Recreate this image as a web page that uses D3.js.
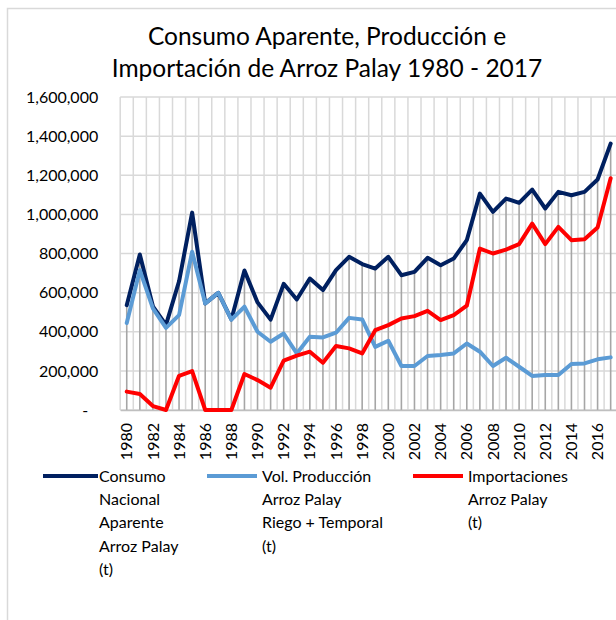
<!DOCTYPE html>
<html>
<head>
<meta charset="utf-8">
<script src="https://cdn.jsdelivr.net/npm/d3@7"></script>
<style>
  body { margin: 0; background: #fff; }
  svg { display: block; font-family: Lato, "Open Sans", sans-serif; }
</style>
</head>
<body>
<script>
var years = ["1980","1981","1982","1983","1984","1985","1986","1987","1988","1989",
             "1990","1991","1992","1993","1994","1995","1996","1997","1998","1999",
             "2000","2001","2002","2003","2004","2005","2006","2007","2008","2009",
             "2010","2011","2012","2013","2014","2015","2016","2017"];

// toneladas
var consumo = [536000, 795000, 530000, 435000, 658000, 1009000, 545000, 599000, 463000, 713000,
               550000, 462000, 645000, 565000, 672000, 613000, 715000, 783000, 746000, 723000,
               783000, 689000, 706000, 778000, 740000, 774000, 868000, 1106000, 1013000, 1081000,
               1059000, 1127000, 1030000, 1115000, 1098000, 1115000, 1178000, 1362000];

var produccion = [445000, 715000, 519000, 420000, 485000, 809000, 545000, 599000, 462000, 528000,
                  400000, 349000, 391000, 289000, 374000, 371000, 395000, 471000, 463000, 323000,
                  354000, 225000, 225000, 276000, 281000, 289000, 340000, 298000, 225000, 267000,
                  221000, 174000, 179000, 179000, 235000, 238000, 259000, 269000];

var importaciones = [94000, 82000, 20000, 0, 175000, 199000, 0, 0, 0, 184000,
                     153000, 114000, 252000, 278000, 298000, 242000, 327000, 315000, 289000, 408000,
                     434000, 468000, 480000, 507000, 460000, 485000, 533000, 825000, 800000, 820000,
                     848000, 953000, 848000, 936000, 868000, 873000, 933000, 1185000];

var yTicks = [0, 200000, 400000, 600000, 800000, 1000000, 1200000, 1400000, 1600000];
var xTickLabels = years.filter(function(d, i) { return i % 2 === 0; });

var titleLines = ["Consumo Aparente, Producción e", "Importación de Arroz Palay 1980 - 2017"];

var legendLabels = [
  ["Consumo", "Nacional", "Aparente", "Arroz Palay", "(t)"],
  ["Vol. Producción", "Arroz Palay", "Riego + Temporal", "(t)"],
  ["Importaciones", "Arroz Palay", "(t)"]
];
var seriesColors = ["#002060", "#5B9BD5", "#FF0000"];

var width = 616, height = 620;
var plotLeft = 120.2, plotRight = 617.2, plotTop = 97, plotBottom = 410;

var svg = d3.select("body").append("svg").attr("width", width).attr("height", height);

// marco del gráfico
svg.append("rect")
  .attr("x", 7.5).attr("y", 8.5).attr("width", 700).attr("height", 700)
  .attr("fill", "none").attr("stroke", "#D9D9D9").attr("stroke-width", 1.5);

// título
svg.append("g").selectAll("text").data(titleLines).enter().append("text")
  .attr("x", 327).attr("y", function(d, i) { return 45 + i * 32; })
  .attr("text-anchor", "middle")
  .style("font-size", "24.5px").style("fill", "#000")
  .text(function(d) { return d; });

var xScale = d3.scaleBand().domain(years).range([plotLeft, plotRight]).padding(0);
var yScale = d3.scaleLinear().domain([0, 1600000]).range([plotBottom, plotTop]);
var xCenter = function(d) { return xScale(d) + xScale.bandwidth() / 2; };

// rejilla horizontal
svg.append("g").selectAll("line").data(yTicks).enter().append("line")
  .attr("x1", plotLeft).attr("x2", plotRight)
  .attr("y1", function(d) { return yScale(d); }).attr("y2", function(d) { return yScale(d); })
  .attr("stroke", "#D9D9D9").attr("stroke-width", 1.5);

// rejilla vertical entre categorías
var boundaries = years.map(function(d) { return xScale(d); });
boundaries.push(plotRight);
svg.append("g").selectAll("line").data(boundaries).enter().append("line")
  .attr("x1", function(d) { return d; }).attr("x2", function(d) { return d; })
  .attr("y1", plotTop).attr("y2", plotBottom)
  .attr("stroke", "#D9D9D9").attr("stroke-width", 1.5);

// líneas de proyección
svg.append("g").selectAll("line").data(years).enter().append("line")
  .attr("x1", xCenter).attr("x2", xCenter)
  .attr("y1", yScale(0))
  .attr("y2", function(d, i) { return yScale(Math.max(consumo[i], produccion[i], importaciones[i])); })
  .attr("stroke", "#A6A6A6").attr("stroke-width", 1.6);

// eje Y
var yAxis = d3.axisLeft(yScale).tickValues(yTicks).tickSize(0).tickPadding(22)
  .tickFormat(function(d) { return d === 0 ? "-" : d3.format(",")(d); });
var gy = svg.append("g").attr("transform", "translate(" + plotLeft + ",0)").call(yAxis);
gy.select(".domain").remove();
gy.selectAll("text").style("font-size", "16px").style("fill", "#000").style("font-family", "Lato, sans-serif");
gy.selectAll(".tick").filter(function(d) { return d === 0; }).select("text").attr("x", -32);

// eje X
var xAxis = d3.axisBottom(xScale).tickValues(xTickLabels).tickSize(0);
var gx = svg.append("g").attr("transform", "translate(0," + plotBottom + ")").call(xAxis);
gx.select(".domain").attr("stroke", "#BFBFBF").attr("stroke-width", 1.5);
gx.selectAll("text")
  .attr("x", -13).attr("y", 0).attr("dy", "0.35em")
  .attr("transform", "rotate(-90)")
  .style("text-anchor", "end")
  .style("font-size", "16px").style("fill", "#000").style("font-family", "Lato, sans-serif");

// series
var series = [consumo, produccion, importaciones];
var line = d3.line()
  .x(function(d, i) { return xCenter(years[i]); })
  .y(function(d) { return yScale(d); });

svg.append("g").selectAll("path").data(series).enter().append("path")
  .attr("d", function(d) { return line(d); })
  .attr("fill", "none")
  .attr("stroke", function(d, i) { return seriesColors[i]; })
  .attr("stroke-width", 4)
  .attr("stroke-linejoin", "round")
  .attr("stroke-linecap", "round");

// leyenda
var legendX = [43, 207, 413];
var legend = svg.append("g").selectAll("g").data(legendLabels).enter().append("g")
  .attr("transform", function(d, i) { return "translate(" + legendX[i] + ",476)"; });
legend.append("line")
  .attr("x1", 0).attr("x2", function(d, i) { return i === 0 ? 55 : 50; })
  .attr("y1", 0).attr("y2", 0)
  .attr("stroke", function(d, i) { return seriesColors[i]; })
  .attr("stroke-width", 4);
legend.append("text")
  .style("font-size", "16px").style("fill", "#000")
  .selectAll("tspan").data(function(d, i) { return d.map(function(t) { return { t: t, k: i }; }); })
  .enter().append("tspan")
  .attr("x", function(d) { return d.k === 0 ? 56 : 55; })
  .attr("y", function(d, j) { return j * 23.3; })
  .attr("dy", "0.35em")
  .text(function(d) { return d.t; });
</script>
</body>
</html>
